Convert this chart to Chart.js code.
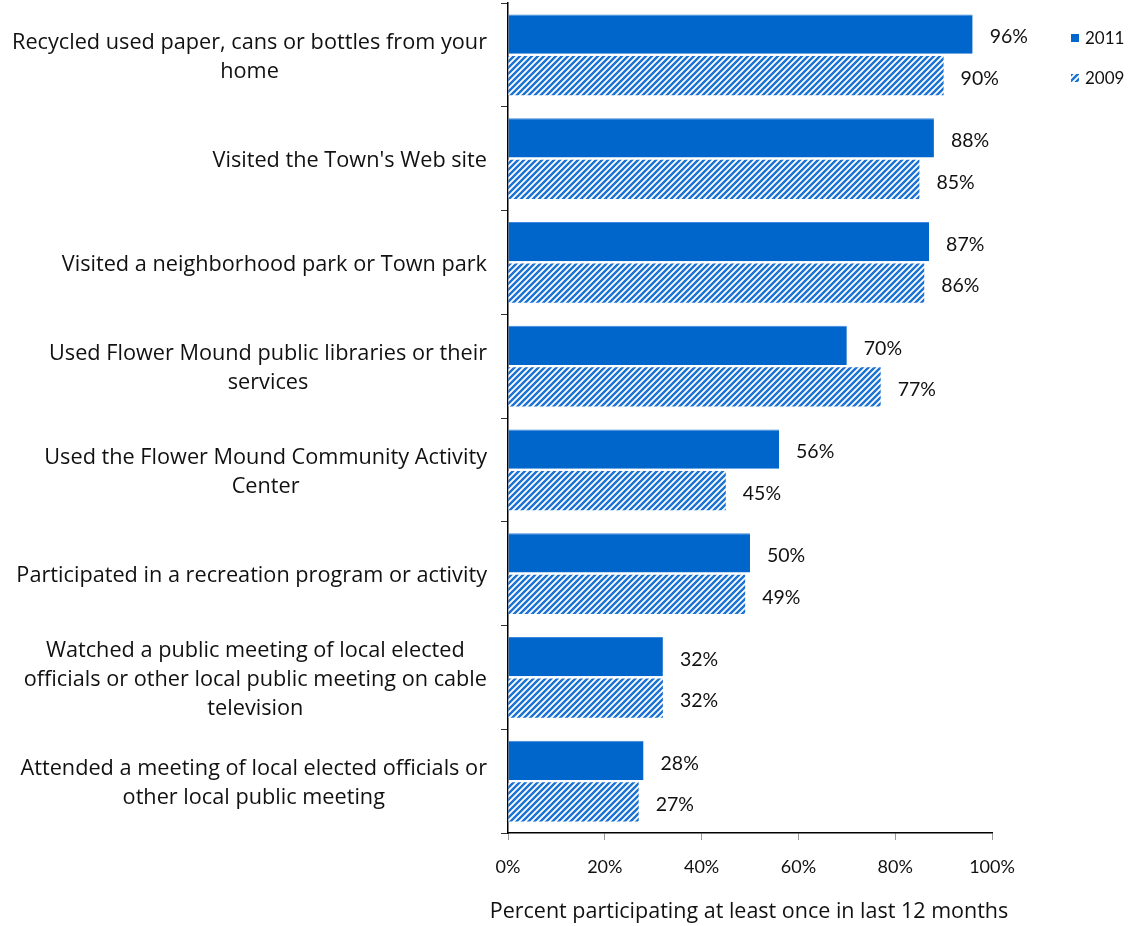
<!DOCTYPE html>
<html>
<head>
<meta charset="utf-8">
<script src="https://cdn.jsdelivr.net/npm/chart.js@4.4.1/dist/chart.umd.min.js"></script>
<style>
html,body{margin:0;padding:0;background:#fff;}
canvas{display:block;}
</style>
</head>
<body>
<canvas id="c" width="1137" height="926"></canvas>
<script>
const categories = [
  ["Recycled used paper, cans or bottles from your", "home"],
  ["Visited the Town's Web site"],
  ["Visited a neighborhood park or Town park"],
  ["Used Flower Mound public libraries or their", "services"],
  ["Used the Flower Mound Community Activity", "Center"],
  ["Participated in a recreation program or activity"],
  ["Watched a public meeting of local elected", "officials or other local public meeting on cable", "television"],
  ["Attended a meeting of local elected officials or", "other local public meeting"]
];
const values2011 = [96, 88, 87, 70, 56, 50, 32, 28];
const values2009 = [90, 85, 86, 77, 45, 49, 32, 27];
const seriesNames = ["2011", "2009"];
const xTicks = [0, 20, 40, 60, 80, 100];
const xTitle = "Percent participating at least once in last 12 months";

const BLUE = '#0066CC';
function makeHatch() {
  const s = 6;
  const c = document.createElement('canvas');
  c.width = s; c.height = s;
  const g = c.getContext('2d');
  g.fillStyle = '#ffffff';
  g.fillRect(0, 0, s, s);
  g.strokeStyle = '#1a72d4';
  g.lineWidth = 2.4;
  g.beginPath();
  g.moveTo(-1, 1); g.lineTo(1, -1);
  g.moveTo(0, s); g.lineTo(s, 0);
  g.moveTo(s - 1, s + 1); g.lineTo(s + 1, s - 1);
  g.stroke();
  return g.createPattern(c, 'repeat');
}
const ctx0 = document.getElementById('c').getContext('2d');
const hatch = makeHatch();

const FONT = "Lato, 'Open Sans', sans-serif";
const LFONT = "'Open Sans', Lato, sans-serif";

const valueLabels = {
  id: 'valueLabels',
  afterDatasetsDraw(chart) {
    const ctx = chart.ctx;
    ctx.save();
    ctx.font = "19.5px " + FONT;
    ctx.fillStyle = '#111';
    ctx.textAlign = 'left';
    ctx.textBaseline = 'middle';
    chart.data.datasets.forEach((ds, i) => {
      const meta = chart.getDatasetMeta(i);
      meta.data.forEach((el, j) => {
        ctx.fillText(ds.data[j] + '%', el.x + 17, el.y + 3);
      });
    });
    ctx.restore();
  }
};

const categoryLabels = {
  id: 'categoryLabels',
  afterDraw(chart) {
    const ctx = chart.ctx;
    const y = chart.scales.y;
    const right = 487, lh = 29;
    ctx.save();
    ctx.font = "21.7px " + LFONT;
    ctx.fillStyle = '#111';
    ctx.textAlign = 'center';
    ctx.textBaseline = 'middle';
    chart.data.labels.forEach((lines, i) => {
      const cy = y.getPixelForValue(i) + 2;
      const w = Math.max(...lines.map(l => ctx.measureText(l).width));
      const cx = right - w / 2;
      const y0 = cy - (lines.length - 1) * lh / 2;
      lines.forEach((l, k) => ctx.fillText(l, cx, y0 + k * lh));
    });
    ctx.restore();
  }
};

const axisTitle = {
  id: 'axisTitle',
  afterDraw(chart) {
    const ctx = chart.ctx;
    const x = chart.scales.x;
    ctx.save();
    ctx.font = "21.5px " + LFONT;
    ctx.fillStyle = '#111';
    ctx.textAlign = 'center';
    ctx.textBaseline = 'middle';
    ctx.fillText(xTitle, (x.left + x.right) / 2 - 1, 912);
    ctx.restore();
  }
};

const customLegend = {
  id: 'customLegend',
  afterDraw(chart) {
    const ctx = chart.ctx;
    ctx.save();
    ctx.font = "17px " + FONT;
    ctx.textBaseline = 'middle';
    ctx.textAlign = 'left';
    const ys = [38, 78];
    chart.data.datasets.forEach((ds, i) => {
      ctx.fillStyle = ds.backgroundColor;
      ctx.fillRect(1071, ys[i] - 4, 8, 8);
      ctx.fillStyle = '#111';
      ctx.fillText(ds.label, 1085, ys[i] + 1);
    });
    ctx.restore();
  }
};

new Chart(ctx0, {
  type: 'bar',
  data: {
    labels: categories,
    datasets: [
      { label: seriesNames[0], data: values2011, backgroundColor: BLUE, borderColor: '#3b87db', borderWidth: {top:1, right:0, bottom:0, left:0} },
      { label: seriesNames[1], data: values2009, backgroundColor: hatch, borderWidth: 0 }
    ]
  },
  options: {
    indexAxis: 'y',
    responsive: false,
    animation: false,
    categoryPercentage: 0.8,
    barPercentage: 0.95,
    layout: { padding: { top: 3, right: 145, bottom: 0, left: 0 } },
    plugins: {
      legend: { display: false },
      tooltip: { enabled: false }
    },
    scales: {
      x: {
        min: 0, max: 100,
        afterBuildTicks(s) { s.ticks = xTicks.map(v => ({ value: v })); },
        afterFit(s) { s.height = 93; s.paddingLeft = 0; s.paddingRight = 0; },
        border: { display: true, color: '#000', width: 1.5 },
        grid: { drawOnChartArea: false, drawTicks: true, tickLength: 7, color: '#999' },
        ticks: {
          callback: v => v + '%',
          color: '#111',
          font: { family: FONT, size: 18 },
          padding: 16,
          maxRotation: 0
        },
        title: { display: false }
      },
      y: {
        afterFit(s) { s.width = 508; s.paddingTop = 0; s.paddingBottom = 0; },
        border: { display: true, color: '#000', width: 1.5 },
        grid: { drawOnChartArea: false, drawTicks: true, tickLength: 7, color: '#333', offset: true },
        ticks: {
          color: 'rgba(0,0,0,0)',
          font: { family: LFONT, size: 20, lineHeight: 1.45 },
          padding: 14
        }
      }
    }
  },
  plugins: [valueLabels, categoryLabels, axisTitle, customLegend]
});
</script>
</body>
</html>
